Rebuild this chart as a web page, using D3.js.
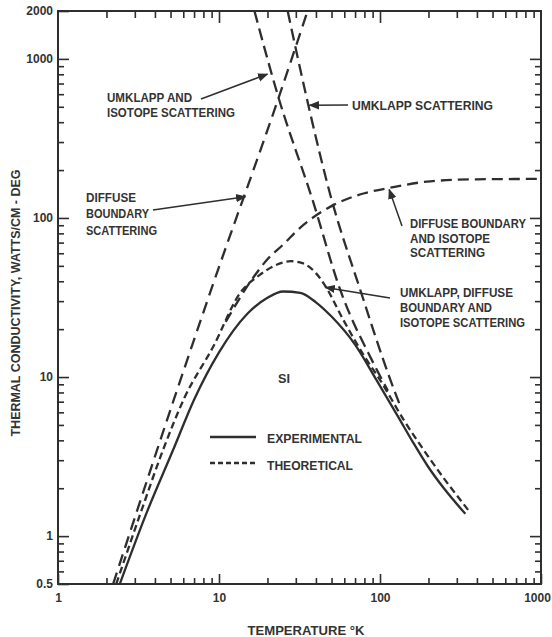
<!DOCTYPE html>
<html><head><meta charset="utf-8">
<script src="https://cdn.jsdelivr.net/npm/d3@7"></script>
<style>
body{margin:0;background:#fff;}
svg text{font-family:"Liberation Sans",Arial,sans-serif;font-weight:bold;fill:#333;}
</style></head><body>
<svg id="chart" width="552" height="637"></svg>
<script>
// ---- data (temperature in K, thermal conductivity in W/cm-deg) ----
const xTickValues = [1, 10, 100, 1000];
const xTickLabels = ["1", "10", "100", "1000"];
const yTickValues = [0.5, 1, 10, 100, 1000, 2000];
const yTickLabels = ["0.5", "1", "10", "100", "1000", "2000"];

const experimentalT = [2.42, 3.5, 5.2, 7, 10, 15, 20, 25, 32, 40, 50, 70, 95, 130, 160, 200, 250, 339];
const experimentalK = [0.5, 1.35, 3.5, 7.2, 14.3, 25, 31.5, 34.5, 33.8, 29.5, 24, 16, 9.6, 5.6, 3.9, 2.71, 1.99, 1.38];

const theoreticalT = [2.3, 3.3, 4.5, 6.1, 9.2, 13.6, 18, 23, 28, 33, 40, 46, 59, 80, 100, 140, 186, 250, 353];
const theoreticalK = [0.5, 1.45, 3.5, 7.4, 15.5, 34, 44, 51, 53.5, 52, 45, 37, 23, 13.5, 9.6, 5.4, 3.5, 2.3, 1.46];

const diffuseT = [2.2, 5.24, 8.97, 23.5, 35.5];
const diffuseK = [0.5, 7.2, 35.8, 573, 2000];

const umklappIsoT = [16.6, 23.4, 38.1, 56.8, 90, 112];
const umklappIsoK = [2000, 573, 130, 35, 12.5, 8.2];

const umklappT = [26.7, 35.9, 49.2, 75.6, 116, 135];
const umklappK = [2000, 511, 139, 35, 9.6, 6.4];

const diffIsoT = [11, 16, 20, 25, 32, 51, 80, 116, 205, 400, 1000];
const diffIsoK = [22.2, 41, 55, 68, 87, 120, 143, 155, 170, 175, 176];

// ---- layout ----
const L = 58, R = 541, T = 11, B = 584;
const svg = d3.select("#chart");
const x = d3.scaleLog().domain([1, 1000]).range([L, R]);
const y = d3.scaleLog().domain([0.5, 2000]).range([B, T]);
const ink = "#2e2e2e";

const defs = svg.append("defs");
defs.append("clipPath").attr("id", "plot")
  .append("rect").attr("x", L).attr("y", T).attr("width", R - L).attr("height", B - T);
defs.append("marker").attr("id", "arr")
  .attr("viewBox", "0 0 10 10").attr("refX", 9).attr("refY", 5)
  .attr("markerWidth", 7).attr("markerHeight", 7).attr("orient", "auto")
  .append("path").attr("d", "M0,1 L10,5 L0,9 Z").attr("fill", ink);

// axes
const isMajorX = v => xTickValues.includes(v);
const isMajorY = v => [1, 10, 100, 1000].includes(v);
const xMinor = x.ticks().filter(v => !isMajorX(v));
const yMinor = y.ticks().filter(v => !isMajorY(v) && v !== 0.5 && v !== 2000);

function styleAxis(g) {
  g.select(".domain").remove();
  g.selectAll("line").attr("stroke", ink).attr("stroke-width", 1.6);
  g.selectAll("text").attr("font-size", 12).attr("fill", "#333")
    .attr("font-family", "Liberation Sans, Arial, sans-serif").attr("font-weight", "bold");
}
// bottom
const gb = svg.append("g").attr("transform", `translate(0,${B})`)
  .call(d3.axisBottom(x).tickValues(xTickValues).tickSize(-10).tickPadding(9)
    .tickFormat((d, i) => xTickLabels[i])).call(styleAxis);
gb.selectAll(".tick text").filter(d => d === 1000).attr("dx", -4);
svg.append("g").attr("transform", `translate(0,${B})`)
  .call(d3.axisBottom(x).tickValues(xMinor).tickSize(-6).tickFormat("")).call(styleAxis);
// top
svg.append("g").attr("transform", `translate(0,${T})`)
  .call(d3.axisTop(x).tickValues([10, 100]).tickSize(-12).tickFormat("")).call(styleAxis);
svg.append("g").attr("transform", `translate(0,${T})`)
  .call(d3.axisTop(x).tickValues(xMinor).tickSize(-7).tickFormat("")).call(styleAxis);
// left
svg.append("g").attr("transform", `translate(${L},0)`)
  .call(d3.axisLeft(y).tickValues(yTickValues).tickSize(-11).tickPadding(5)
    .tickFormat((d, i) => yTickLabels[i])).call(styleAxis);
svg.append("g").attr("transform", `translate(${L},0)`)
  .call(d3.axisLeft(y).tickValues(yMinor).tickSize(-6).tickFormat("")).call(styleAxis);
// right
svg.append("g").attr("transform", `translate(${R},0)`)
  .call(d3.axisRight(y).tickValues([1, 10, 100, 1000]).tickSize(-11).tickFormat("")).call(styleAxis);
svg.append("g").attr("transform", `translate(${R},0)`)
  .call(d3.axisRight(y).tickValues(yMinor).tickSize(-6).tickFormat("")).call(styleAxis);

// frame
svg.append("rect").attr("x", L).attr("y", T).attr("width", R - L).attr("height", B - T)
  .attr("fill", "none").attr("stroke", ink).attr("stroke-width", 2);

// curves
const zip = (a, b) => a.map((v, i) => [v, b[i]]);
const curves = [
  {data: zip(diffuseT, diffuseK), dash: "12,7"},
  {data: zip(umklappIsoT, umklappIsoK), dash: "12,6"},
  {data: zip(umklappT, umklappK), dash: "12,6"},
  {data: zip(diffIsoT, diffIsoK), dash: "11,6"},
  {data: zip(theoreticalT, theoreticalK), dash: "7,4"},
  {data: zip(experimentalT, experimentalK), dash: null}
];
const cg = svg.append("g").attr("clip-path", "url(#plot)");
const ln = d3.line().x(d => x(d[0])).y(d => y(d[1])).curve(d3.curveMonotoneX);
curves.forEach(c => {
  cg.append("path").attr("d", ln(c.data)).attr("fill", "none").attr("stroke", ink)
    .attr("stroke-width", 2.3).attr("stroke-dasharray", c.dash);
});

// annotations
const labels = [
  {t: "UMKLAPP AND", x: 107, y: 102, w: 85},
  {t: "ISOTOPE SCATTERING", x: 107, y: 117, w: 128},
  {t: "UMKLAPP SCATTERING", x: 352, y: 110, w: 141},
  {t: "DIFFUSE", x: 86, y: 202, w: 50},
  {t: "BOUNDARY", x: 86, y: 218, w: 63},
  {t: "SCATTERING", x: 86, y: 235, w: 71},
  {t: "DIFFUSE BOUNDARY", x: 410, y: 228, w: 116},
  {t: "AND ISOTOPE", x: 410, y: 243, w: 80},
  {t: "SCATTERING", x: 410, y: 257, w: 75},
  {t: "UMKLAPP, DIFFUSE", x: 400, y: 297, w: 113},
  {t: "BOUNDARY AND", x: 400, y: 312, w: 92},
  {t: "ISOTOPE SCATTERING", x: 400, y: 327, w: 125},
  {t: "SI", x: 278, y: 383, w: 12},
  {t: "EXPERIMENTAL", x: 267, y: 443, w: 95},
  {t: "THEORETICAL", x: 267, y: 470, w: 86}
];
svg.append("g").selectAll("text").data(labels).join("text")
  .attr("x", d => d.x).attr("y", d => d.y).attr("font-size", 12.5)
  .attr("textLength", d => d.w).attr("lengthAdjust", "spacingAndGlyphs")
  .text(d => d.t);

const arrows = [
  {from: [201, 99], tip: [20.0, 802]},
  {from: [348, 105], tip: [36.5, 511]},
  {from: [153, 210], tip: [14.6, 136]},
  {from: [402, 226], tip: [114, 151]},
  {from: [390, 298], tip: [45.8, 36.6]}
];
svg.append("g").selectAll("line").data(arrows).join("line")
  .attr("x1", d => d.from[0]).attr("y1", d => d.from[1])
  .attr("x2", d => x(d.tip[0])).attr("y2", d => y(d.tip[1]))
  .attr("stroke", ink).attr("stroke-width", 1.5).attr("marker-end", "url(#arr)");

// legend samples
const legend = [{y: 437, dash: null}, {y: 463, dash: "5,3"}];
svg.append("g").selectAll("line").data(legend).join("line")
  .attr("x1", 210).attr("x2", 256).attr("y1", d => d.y).attr("y2", d => d.y)
  .attr("stroke", ink).attr("stroke-width", 2.3).attr("stroke-dasharray", d => d.dash);

// axis titles
svg.append("text").attr("transform", "translate(20,303) rotate(-90)")
  .attr("text-anchor", "middle").attr("font-size", 12.5)
  .attr("textLength", 267).attr("lengthAdjust", "spacingAndGlyphs")
  .text("THERMAL CONDUCTIVITY, WATTS/CM - DEG");
svg.append("text").attr("x", 306).attr("y", 635).attr("text-anchor", "middle")
  .attr("font-size", 12.5).attr("textLength", 117).attr("lengthAdjust", "spacingAndGlyphs")
  .text("TEMPERATURE °K");
</script>
</body></html>
